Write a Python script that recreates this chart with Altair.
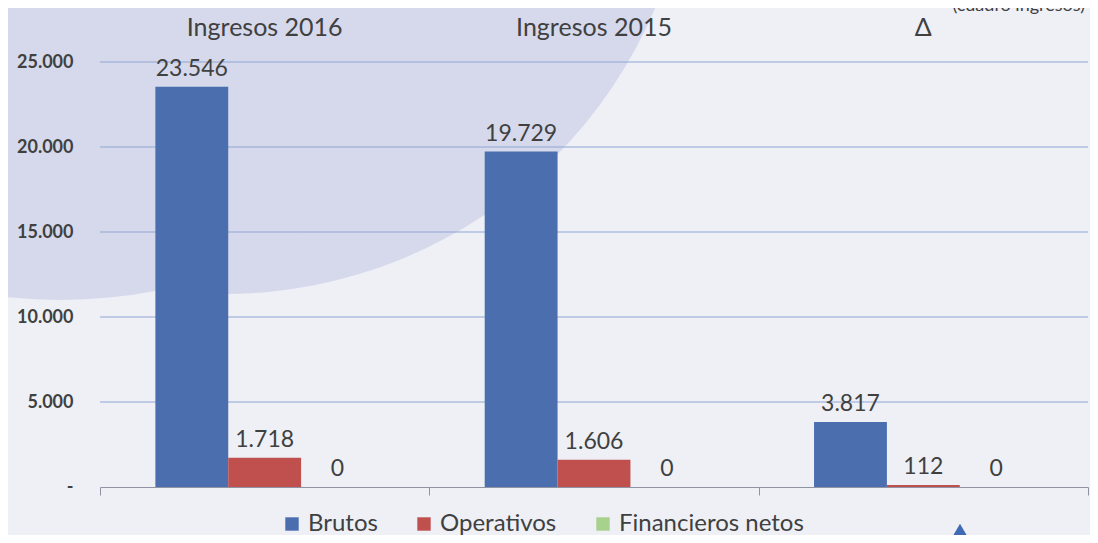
import altair as alt
import pandas as pd

categories = ["Ingresos 2016", "Ingresos 2015", "Δ"]
series = ["Brutos", "Operativos", "Financieros netos"]
brutos = [23546, 19729, 3817]
operativos = [1718, 1606, 112]
financieros = [0, 0, 0]
colors = ["#4a6eae", "#c0504d", "#a9d18e"]
y_ticks = [0, 5000, 10000, 15000, 20000, 25000]

rows = []
for i, c in enumerate(categories):
    for s, vals in zip(series, [brutos, operativos, financieros]):
        rows.append({"cat": c, "series": s, "value": vals[i]})
df = pd.DataFrame(rows)
cat_df = pd.DataFrame({"cat": categories})
grid_df = pd.DataFrame({"v": y_ticks[1:]})

FONT = "Lato"
TXT = "#404040"
SHADE = "#d5d9eb"

x_enc = alt.X(
    "cat:N", sort=categories,
    scale=alt.Scale(paddingInner=0, paddingOuter=0),
    axis=alt.Axis(orient="bottom", labels=False, title=None, tickBand="extent",
                  ticks=True, tickSize=8, domainColor="#8f93a3", tickColor="#8f93a3",
                  grid=False, domainWidth=1.2, zindex=1),
)
xoff = alt.XOffset("series:N", sort=series,
                   scale=alt.Scale(paddingOuter=0.76, paddingInner=0))
y_scale = alt.Scale(domain=[0, 25000], nice=False)
y_enc = alt.Y(
    "value:Q", scale=y_scale,
    axis=alt.Axis(values=y_ticks, title=None, domain=False, ticks=False, grid=False,
                  labelExpr="datum.value == 0 ? '-' : replace(format(datum.value, ','), ',', '.')",
                  labelFont=FONT, labelFontSize=18, labelFontWeight="bold",
                  labelColor=TXT, labelPadding=27, zindex=1),
)

# decorative background shape (upper-left)
shade1 = alt.Chart(pd.DataFrame({"a": [0]})).mark_arc(
    color=SHADE, theta=0, theta2=6.2832, outerRadius=468, clip=False
).encode(x=alt.value(124), y=alt.value(-236))
shade2 = alt.Chart(pd.DataFrame({"a": [0]})).mark_arc(
    color=SHADE, theta=0, theta2=6.2832, outerRadius=500, clip=False
).encode(x=alt.value(-40), y=alt.value(-262))

# decorative triangle at bottom right
tri = alt.Chart(pd.DataFrame({"a": [0]})).mark_point(
    shape="triangle-up", filled=True, color="#3f6bb5", opacity=1, size=1800, clip=False
).encode(x=alt.value(860), y=alt.value(480))

grid = alt.Chart(grid_df).mark_rule(color="#8fa5d2", strokeWidth=1.2).encode(
    y=alt.Y("v:Q", scale=y_scale)
)

bars = alt.Chart(df).mark_bar().encode(
    x=x_enc, xOffset=xoff, y=y_enc,
    color=alt.Color("series:N", sort=series,
                    scale=alt.Scale(domain=series, range=colors),
                    legend=alt.Legend(title=None, orient="none", direction="horizontal",
                                      legendX=180, legendY=450, symbolType="square",
                                      symbolSize=180, labelFont=FONT, labelFontSize=24,
                                      labelColor=TXT, columnPadding=34, labelLimit=0,
                                      symbolStrokeWidth=0)),
)

labels = alt.Chart(df).transform_calculate(
    lbl="replace(format(datum.value, ','), ',', '.')"
).mark_text(baseline="bottom", dy=-6, font=FONT, fontSize=23, color=TXT).encode(
    x=alt.X("cat:N", sort=categories), xOffset=alt.XOffset("series:N", sort=series),
    y="value:Q", text="lbl:N",
)

titles = alt.Chart(cat_df).mark_text(
    baseline="middle", font=FONT, fontSize=25, color=TXT
).encode(x=alt.X("cat:N", sort=categories), y=alt.value(-34), text="cat:N")

note = alt.Chart(pd.DataFrame({"t": ["(cuadro ingresos)"]})).mark_text(
    align="right", baseline="bottom", font=FONT, fontSize=18, color=TXT
).encode(x=alt.value(985), y=alt.value(-47), text="t:N")

chart = alt.layer(shade1, shade2, tri, grid, bars, labels, titles, note).properties(
    width=988, height=425,
    padding={"left": 92, "top": 54, "right": 2, "bottom": 48},
    autosize="none",
).configure(background="#eef0f6").configure_view(stroke=None)

chart.save("out.html", embed_options={"renderer": "svg", "actions": False})
